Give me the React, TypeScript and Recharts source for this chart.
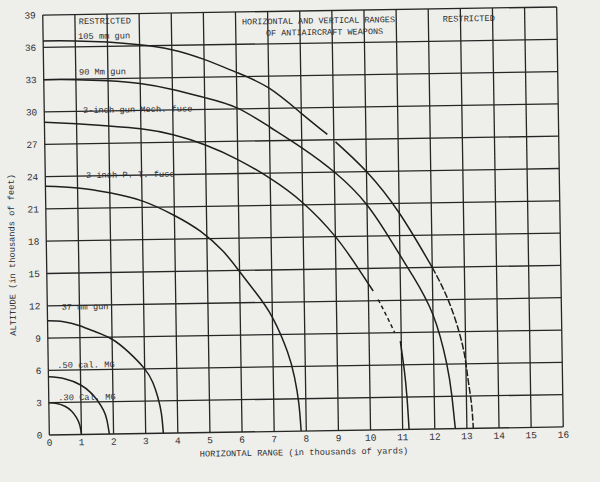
import React from 'react';
import { LineChart, Line, XAxis, YAxis, CartesianGrid, Customized } from 'recharts';

const xTicks = [0, 1, 2, 3, 4, 5, 6, 7, 8, 9, 10, 11, 12, 13, 14, 15, 16];
const yTicks = [0, 3, 6, 9, 12, 15, 18, 21, 24, 27, 30, 33, 36, 39];

const cal30 = [
  { x: 0, y: 3.0 }, { x: 0.25, y: 2.92 }, { x: 0.5, y: 2.65 }, { x: 0.7, y: 2.2 },
  { x: 0.85, y: 1.6 }, { x: 0.95, y: 0.9 }, { x: 1.0, y: 0 },
];
const cal50 = [
  { x: 0, y: 5.4 }, { x: 0.5, y: 5.2 }, { x: 1.0, y: 4.6 }, { x: 1.3, y: 3.9 },
  { x: 1.5, y: 3.2 }, { x: 1.7, y: 2.2 }, { x: 1.8, y: 1.3 }, { x: 1.87, y: 0 },
];
const gun37 = [
  { x: 0, y: 10.6 }, { x: 0.5, y: 10.5 }, { x: 1, y: 10.1 }, { x: 1.5, y: 9.5 },
  { x: 2, y: 8.8 }, { x: 2.5, y: 7.6 }, { x: 3, y: 6.0 }, { x: 3.25, y: 4.7 },
  { x: 3.4, y: 3.3 }, { x: 3.5, y: 1.8 }, { x: 3.55, y: 0 },
];
const ptFuse = [
  { x: 0, y: 23.1 }, { x: 1, y: 22.9 }, { x: 2, y: 22.4 }, { x: 3, y: 21.6 },
  { x: 4, y: 20.2 }, { x: 4.8, y: 18.7 }, { x: 5.5, y: 16.8 }, { x: 6, y: 14.9 },
  { x: 6.5, y: 12.9 }, { x: 7, y: 10.6 }, { x: 7.45, y: 7.4 }, { x: 7.66, y: 5.0 },
  { x: 7.78, y: 2.6 }, { x: 7.84, y: 0 },
];
const mechFuseA = [
  { x: 0, y: 29.05 }, { x: 1, y: 28.85 }, { x: 2, y: 28.6 }, { x: 3, y: 28.3 },
  { x: 4, y: 27.7 }, { x: 5, y: 26.7 }, { x: 6, y: 25.3 }, { x: 7, y: 23.5 },
  { x: 8, y: 21.2 }, { x: 9, y: 18 }, { x: 9.7, y: 15.0 }, { x: 10.15, y: 12.9 },
];
const mechFuseB = [
  { x: 10.3, y: 12.1 }, { x: 10.55, y: 10.6 }, { x: 10.8, y: 9.0 },
];
const mechFuseC = [
  { x: 10.97, y: 8.2 }, { x: 11.08, y: 5.5 }, { x: 11.15, y: 3.0 }, { x: 11.2, y: 0 },
];
const gun90 = [
  { x: 0, y: 33 }, { x: 1, y: 32.95 }, { x: 2, y: 32.8 }, { x: 3, y: 32.5 },
  { x: 4, y: 31.9 }, { x: 5, y: 31.1 }, { x: 6, y: 30.1 }, { x: 7, y: 28.3 },
  { x: 8, y: 26.3 }, { x: 9, y: 24 }, { x: 10, y: 20.9 }, { x: 10.8, y: 17.2 },
  { x: 11.4, y: 14.2 }, { x: 12, y: 10.6 }, { x: 12.4, y: 6.1 }, { x: 12.55, y: 3 },
  { x: 12.64, y: 0 },
];
const gun105A = [
  { x: 0, y: 36.6 }, { x: 1, y: 36.55 }, { x: 2, y: 36.4 }, { x: 3, y: 36.1 },
  { x: 4, y: 35.6 }, { x: 5, y: 34.65 }, { x: 6, y: 33.4 }, { x: 7, y: 31.9 },
  { x: 8, y: 29.5 }, { x: 8.8, y: 27.5 },
];
const gun105B = [
  { x: 9.05, y: 26.8 }, { x: 10, y: 24 }, { x: 11, y: 20.1 }, { x: 12, y: 15 },
];
const gun105C = [
  { x: 12, y: 15 }, { x: 12.5, y: 11.8 }, { x: 12.9, y: 7.8 }, { x: 13.05, y: 4.8 },
  { x: 13.15, y: 2.4 }, { x: 13.2, y: 0 },
];

const curveLabels = [
  { text: '105 mm gun', x: 81, y: 35.6 },
  { text: '90 Mm gun', x: 81.3, y: 71.3 },
  { text: '3-inch gun Mech. fuse', x: 84.7, y: 109.6 },
  { text: '3 inch P. T. fuse', x: 86.7, y: 174.7 },
  { text: '37 mm gun', x: 60.3, y: 306 },
  { text: '.50 cal. MG', x: 55, y: 364.1 },
  { text: '.30 Cal. MG', x: 55.5, y: 396.5 },
];

const FONT = '"Liberation Mono", "DejaVu Sans Mono", monospace';
const INK = '#2f2f2f';

const Annotations = () => (
  <g fontFamily={FONT} fill={INK} fontSize={8.7}>
    <text x={108} y={20.7} textAnchor="middle">RESTRICTED</text>
    <text x={321.6} y={23.6} textAnchor="middle" fontSize={8.5}>HORIZONTAL AND VERTICAL RANGES</text>
    <text x={327.5} y={35.2} textAnchor="middle" fontSize={8.5}>OF ANTIAIRCRAFT WEAPONS</text>
    <text x={472} y={24} textAnchor="middle">RESTRICTED</text>
    {curveLabels.map((l) => (
      <text key={l.text} x={l.x} y={l.y} textAnchor="start">{l.text}</text>
    ))}
    <text x={300.4} y={455} textAnchor="middle">HORIZONTAL RANGE (in thousands of yards)</text>
    <text x={11.2} y={253.5} textAnchor="middle" transform="rotate(-90 11.2 250.4)">
      ALTITUDE (in thousands of feet)
    </text>
  </g>
);

const lineProps = {
  dataKey: 'y',
  type: 'natural' as const,
  dot: false,
  activeDot: false,
  stroke: '#1f1f1f',
  strokeWidth: 1.5,
  isAnimationActive: false,
  legendType: 'none' as const,
};

export default function App() {
  return (
    <div
      style={{
        position: 'absolute',
        left: 0,
        top: 0,
        width: 600,
        height: 482,
        background: '#eeeeeb',
        overflow: 'hidden',
      }}
    >
      <div style={{ width: 600, height: 482, transform: 'rotate(-0.9deg)', transformOrigin: '303px 221px' }}>
        <LineChart width={600} height={482} margin={{ top: 11, right: 40, bottom: 21, left: 6 }}>
          <CartesianGrid stroke="#262626" strokeWidth={1.3} />
          <XAxis
            type="number"
            dataKey="x"
            domain={[0, 16]}
            ticks={xTicks}
            interval={0}
            allowDataOverflow
            axisLine={false}
            tickLine={false}
            tickSize={0}
            tickMargin={4}
            height={30}
            tick={{ fontSize: 9.5, fill: INK, fontFamily: FONT }}
          />
          <YAxis
            type="number"
            domain={[0, 39]}
            ticks={yTicks}
            interval={0}
            allowDataOverflow
            axisLine={false}
            tickLine={false}
            tickSize={0}
            tickMargin={7}
            width={40}
            tick={{ fontSize: 9.5, fill: INK, fontFamily: FONT }}
          />
          <Line {...lineProps} data={cal30} name=".30 Cal. MG" />
          <Line {...lineProps} data={cal50} name=".50 cal. MG" />
          <Line {...lineProps} data={gun37} name="37 mm gun" />
          <Line {...lineProps} data={ptFuse} name="3 inch P. T. fuse" />
          <Line {...lineProps} data={mechFuseA} name="3-inch gun Mech. fuse" />
          <Line {...lineProps} data={mechFuseB} name="3-inch gun Mech. fuse (b)" strokeDasharray="4 3" />
          <Line {...lineProps} data={mechFuseC} name="3-inch gun Mech. fuse (c)" />
          <Line {...lineProps} data={gun90} name="90 Mm gun" />
          <Line {...lineProps} data={gun105A} name="105 mm gun" />
          <Line {...lineProps} data={gun105B} name="105 mm gun (b)" />
          <Line {...lineProps} data={gun105C} name="105 mm gun (c)" strokeDasharray="7 2" />
          <Customized component={Annotations} />
        </LineChart>
      </div>
    </div>
  );
}
